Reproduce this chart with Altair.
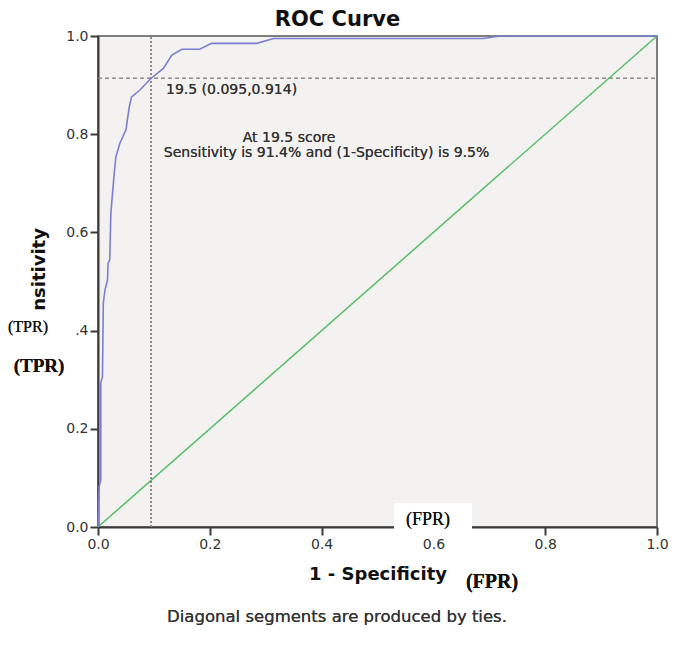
import altair as alt
import pandas as pd

# ROC curve points
fpr = [0, 0.002, 0.005, 0.005, 0.008, 0.0095, 0.0125, 0.017, 0.018, 0.021, 0.023,
       0.026, 0.029, 0.032, 0.039, 0.050, 0.056, 0.060, 0.075, 0.095, 0.117, 0.132,
       0.150, 0.182, 0.203, 0.284, 0.314, 0.690, 0.719, 1.0]
tpr = [0, 0.082, 0.096, 0.293, 0.306, 0.456, 0.483, 0.503, 0.537, 0.544, 0.639,
       0.680, 0.720, 0.754, 0.781, 0.809, 0.856, 0.876, 0.890, 0.914, 0.934, 0.961,
       0.973, 0.973, 0.985, 0.985, 0.995, 0.995, 1.0, 1.0]
diag_x = [0.0, 1.0]
diag_y = [0.0, 1.0]
cut_fpr = 0.095
cut_tpr = 0.914
ticks = [0.0, 0.2, 0.4, 0.6, 0.8, 1.0]

roc = pd.DataFrame({"fpr": fpr, "tpr": tpr, "i": list(range(len(fpr)))})
diag = pd.DataFrame({"fpr": diag_x, "tpr": diag_y})

SANS = "DejaVu Sans"
SERIF = "Liberation Serif"

xs = alt.Scale(domain=[0, 1], nice=False, zero=False)
ys = alt.Scale(domain=[0, 1], nice=False, zero=False)

xaxis = alt.Axis(values=ticks, format=".1f", title="1 - Specificity", grid=False,
                 labelFlush=False, labelOverlap=False,
                 domainColor="#3a3a3a", domainWidth=2, tickColor="#3a3a3a", tickWidth=2,
                 tickSize=8, labelFont=SANS, labelFontSize=14, labelColor="#333",
                 labelPadding=2, titleFont=SANS, titleFontSize=18, titleFontWeight="bold",
                 titleColor="#111", titlePadding=14)
yaxis = alt.Axis(values=ticks, title="Sensitivity", grid=False,
                 labelFlush=False, labelOverlap=False,
                 labelExpr="datum.value == 0.4 ? '.4' : format(datum.value, '.1f')",
                 domainColor="#3a3a3a", domainWidth=2, tickColor="#3a3a3a", tickWidth=2,
                 tickSize=8, labelFont=SANS, labelFontSize=14, labelColor="#333",
                 labelPadding=2, titleFont=SANS, titleFontSize=18, titleFontWeight="bold",
                 titleColor="#111", titlePadding=17)

base_line = alt.Chart(diag).mark_line(color="#55bd68", strokeWidth=1.5).encode(
    x=alt.X("fpr:Q", scale=xs, axis=xaxis),
    y=alt.Y("tpr:Q", scale=ys, axis=yaxis),
)

hline = alt.Chart(diag).mark_rule(color="#8a8580", strokeDash=[4, 3], strokeWidth=1).encode(
    x=alt.datum(0.0), x2=alt.datum(1.0), y=alt.datum(cut_tpr)
)
vline = alt.Chart(diag).mark_rule(color="#8a8580", strokeDash=[2, 2], strokeWidth=1.5).encode(
    x=alt.datum(cut_fpr), y=alt.datum(0.0), y2=alt.datum(1.0)
)

curve = alt.Chart(roc).mark_line(color="#7a7fcf", strokeWidth=1.6).encode(
    x="fpr:Q", y="tpr:Q", order="i:Q"
)

lbl1 = alt.Chart(diag).mark_text(align="left", baseline="middle", font=SANS,
                                 fontSize=14, color="#333").encode(
    x=alt.datum(0.1216), y=alt.datum(0.89), text=alt.value("19.5 (0.095,0.914)")
)
lbl2 = alt.Chart(diag).mark_text(align="center", baseline="middle", font=SANS,
                                 fontSize=14, color="#333").encode(
    x=alt.datum(0.3417), y=alt.datum(0.792), text=alt.value("At 19.5 score")
)
lbl3 = alt.Chart(diag).mark_text(align="center", baseline="middle", font=SANS,
                                 fontSize=14, color="#333").encode(
    x=alt.datum(0.4088), y=alt.datum(0.762),
    text=alt.value("Sensitivity is 91.4% and (1-Specificity) is 9.5%")
)

# white patches with overlaid labels
white_fpr = alt.Chart(diag).mark_rect(color="white").encode(
    x=alt.value(296), x2=alt.value(374), y=alt.value(467), y2=alt.value(502)
)
fpr_in = alt.Chart(diag).mark_text(font=SERIF, fontSize=18, color="#111",
                                   baseline="middle").encode(
    x=alt.value(330), y=alt.value(484), text=alt.value("(FPR)")
)
fpr_out = alt.Chart(diag).mark_text(font=SERIF, fontSize=20, fontWeight="bold",
                                    color="#111", baseline="middle").encode(
    x=alt.value(394), y=alt.value(546), text=alt.value("(FPR)")
)
white_tpr = alt.Chart(diag).mark_rect(color="white").encode(
    x=alt.value(-92), x2=alt.value(-38), y=alt.value(275), y2=alt.value(342)
)
tpr1 = alt.Chart(diag).mark_text(font=SERIF, fontSize=16, color="#111",
                                 baseline="middle").encode(
    x=alt.value(-70), y=alt.value(291), text=alt.value("(TPR)")
)
tpr2 = alt.Chart(diag).mark_text(font=SERIF, fontSize=19, fontWeight="bold",
                                 color="#111", baseline="middle").encode(
    x=alt.value(-59), y=alt.value(330), text=alt.value("(TPR)")
)
footer = alt.Chart(diag).mark_text(font=SANS, fontSize=16.5, color="#333",
                                   baseline="middle").encode(
    x=alt.value(239), y=alt.value(581),
    text=alt.value("Diagonal segments are produced by ties.")
)

chart = alt.layer(
    base_line, hline, vline, curve, lbl1, lbl2, lbl3,
    white_fpr, fpr_in, fpr_out, white_tpr, tpr1, tpr2, footer
).properties(
    width=559, height=491,
    title=alt.TitleParams("ROC Curve", font=SANS, fontSize=21, fontWeight="bold",
                          color="#111", anchor="middle", offset=-1, dx=-40),
    autosize="none",
    background="white",
    padding={"left": 90, "top": 28, "right": 14, "bottom": 104},
).configure_view(
    fill="#f3f2f0", stroke="#555", strokeWidth=1.5
)

chart.save("out.html", embed_options={"renderer": "svg", "actions": False})
